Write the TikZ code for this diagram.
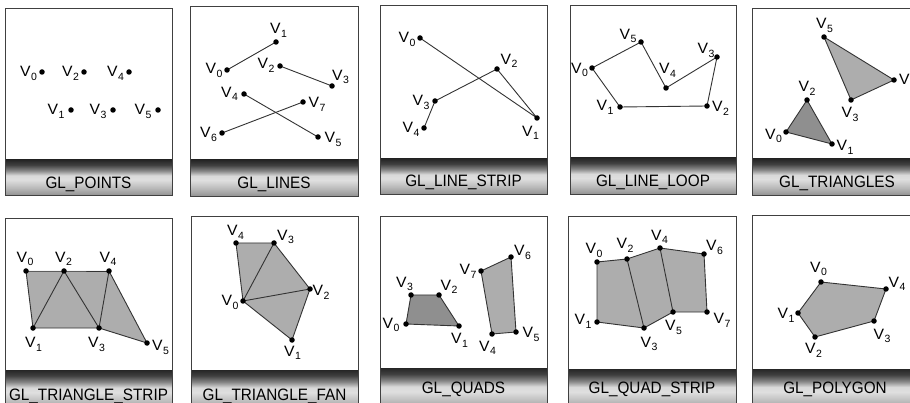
\documentclass[tikz,border=0pt]{standalone}
\usepackage{fontspec}
\setmainfont{Liberation Sans}
\pgfdeclarelayer{bg}
\pgfsetlayers{bg,main}
\pgfdeclareverticalshading{banner}{100bp}{color(0bp)=(gray!85); color(25bp)=(gray!85); color(35bp)=(gray!55); color(47bp)=(gray!25); color(53bp)=(gray!30); color(60bp)=(gray!95); color(68bp)=(black!75); color(75bp)=(black!85); color(100bp)=(black!85)}
\newcommand\vlab[1]{\scalebox{1.05}[1]{V}\kern0.4pt\raisebox{-3.5pt}{\fontsize{10.5}{10.5}\selectfont #1}}
\newcommand\bantext[1]{\scalebox{1.02}[1.1]{#1}}
\tikzset{
  frame/.style={draw=black!75, line width=0.9pt},
  edge/.style={draw=black!80, line width=0.9pt, line join=round},
  dot/.style={circle, fill=black, inner sep=0pt, minimum size=5.5pt},
  vl/.style={font=\fontsize{15}{15}\selectfont, inner sep=0pt},
  bt/.style={font=\fontsize{15}{15}\selectfont, inner sep=0pt, anchor=base},
  fillA/.style={fill=gray!64},
  fillB/.style={fill=gray!88},
}
% vertex: name, position, label offset, subscript
\newcommand\vtx[4]{\node[dot] (#1) at (#2) {};
  \node[vl] (#1t) at ([shift={(#3)}]#1) {\vlab{#4}};}
% panel: name, x1, y1, x2, y2, banner top, text baseline, text
\newcommand\panel[8]{%
  \shade[shading=banner] (#2,#6) rectangle (#4,#5);
  \draw[frame] (#2,#3) rectangle (#4,#5);
  \node[bt] (#1) at ({(#2+#4)/2},#7) {\bantext{#8}};}
\begin{document}
\begin{tikzpicture}[x=1pt,y=-1pt]
\useasboundingbox (0,0) rectangle (910,403);
\clip (0,0) rectangle (910,403);
\begin{pgfonlayer}{bg}
  \fill[white] (0,0) rectangle (910,403);
\end{pgfonlayer}

% ---------- panels ----------
\panel{t1}{5}{8}{172}{195}{160}{188.5}{GL\_POINTS}
\panel{t2}{190}{6}{358}{196}{160}{188.5}{GL\_LINES}
\panel{t3}{380}{5}{547}{194}{159}{187}{GL\_LINE\_STRIP}
\panel{t4}{570}{5}{736}{194}{158}{187}{GL\_LINE\_LOOP}
\panel{t5}{752}{8}{922}{195}{159}{188}{GL\_TRIANGLES}
\panel{t6}{5}{218}{172}{410}{370}{400}{GL\_TRIANGLE\_STRIP}
\panel{t7}{191}{216}{358}{410}{370}{400}{GL\_TRIANGLE\_FAN}
\panel{t8}{380}{216}{547}{410}{368}{393.5}{GL\_QUADS}
\panel{t9}{568}{216}{736}{410}{369}{393.5}{GL\_QUAD\_STRIP}
\panel{t10}{752}{215}{918}{410}{369}{393.5}{GL\_POLYGON}

% ---------- GL_POINTS ----------
\vtx{a0}{42,72}{-13.5,1.5}{0}
\vtx{a2}{84,72}{-13.5,1.5}{2}
\vtx{a4}{129,72}{-13.5,1.5}{4}
\vtx{a1}{71,110}{-15,1.5}{1}
\vtx{a3}{113,110}{-15,1.5}{3}
\vtx{a5}{158,110}{-15,1.5}{5}

% ---------- GL_LINES ----------
\vtx{b0}{227,70}{-13,0.5}{0}
\vtx{b1}{276,42}{2.5,-11.5}{1}
\vtx{b2}{280,66}{-14,-0.5}{2}
\vtx{b3}{332,86}{8.5,-9}{3}
\vtx{b4}{244,94}{-14.5,0}{4}
\vtx{b5}{318,137}{15,2.5}{5}
\vtx{b6}{222,133}{-13.5,1.5}{6}
\vtx{b7}{303,102}{14,2.5}{7}
\begin{pgfonlayer}{bg}
  \draw[edge] (b0.center) -- (b1.center);
  \draw[edge] (b2.center) -- (b3.center);
  \draw[edge] (b4.center) -- (b5.center);
  \draw[edge] (b6.center) -- (b7.center);
\end{pgfonlayer}

% ---------- GL_LINE_STRIP ----------
\vtx{c0}{420,38}{-13,1.5}{0}
\vtx{c1}{537,118}{-6.5,15}{1}
\vtx{c2}{497,69}{12,-8}{2}
\vtx{c3}{435,101}{-14,1.5}{3}
\vtx{c4}{424,128}{-13,1.5}{4}
\begin{pgfonlayer}{bg}
  \draw[edge] (c0.center) -- (c1.center) -- (c2.center) -- (c3.center) -- (c4.center);
\end{pgfonlayer}

% ---------- GL_LINE_LOOP ----------
\vtx{d0}{592,68}{-12.5,2}{0}
\vtx{d1}{620,107}{-15,0.5}{1}
\vtx{d2}{707,106}{13.5,2.5}{2}
\vtx{d3}{717,57}{-11,-6.5}{3}
\vtx{d4}{666,88}{1.5,-17.5}{4}
\vtx{d5}{641,42}{-13,-6}{5}
\begin{pgfonlayer}{bg}
  \draw[edge] (d0.center) -- (d1.center) -- (d2.center) -- (d3.center) -- (d4.center) -- (d5.center) -- cycle;
\end{pgfonlayer}

% ---------- GL_TRIANGLES ----------
\vtx{e0}{786,132}{-12.5,4}{0}
\vtx{e1}{832,144}{13,3.5}{1}
\vtx{e2}{807,100}{0,-11.5}{2}
\vtx{e3}{851,100}{-1,14.5}{3}
\vtx{e4}{894,80}{13.5,1}{4}
\vtx{e5}{824,37}{0.5,-11.5}{5}
\begin{pgfonlayer}{bg}
  \filldraw[edge,fillB] (e0.center) -- (e1.center) -- (e2.center) -- cycle;
  \filldraw[edge,fillA] (e3.center) -- (e4.center) -- (e5.center) -- cycle;
\end{pgfonlayer}

% ---------- GL_TRIANGLE_STRIP ----------
\vtx{f0}{26,271}{-1,-12}{0}
\vtx{f1}{33,328}{0.5,16.5}{1}
\vtx{f2}{64,271}{-0.5,-12}{2}
\vtx{f3}{99,328}{-2.5,16.5}{3}
\vtx{f4}{109,271}{-1,-12}{4}
\vtx{f5}{147,343}{13.5,4.5}{5}
\begin{pgfonlayer}{bg}
  \fill[fillA] (f0.center) -- (f2.center) -- (f4.center) -- (f5.center) -- (f3.center) -- (f1.center) -- cycle;
  \draw[edge] (f0.center) -- (f1.center) -- (f2.center) -- (f3.center) -- (f4.center) -- (f5.center);
  \draw[edge] (f0.center) -- (f2.center) -- (f4.center);
  \draw[edge] (f1.center) -- (f3.center) -- (f5.center);
\end{pgfonlayer}

% ---------- GL_TRIANGLE_FAN ----------
\vtx{g0}{243,301}{-13,1.5}{0}
\vtx{g1}{292,340}{0.5,13}{1}
\vtx{g2}{310,289}{11,3.5}{2}
\vtx{g3}{274,243}{11.5,-6}{3}
\vtx{g4}{236,243}{-0.5,-10.5}{4}
\begin{pgfonlayer}{bg}
  \filldraw[edge,fillA] (g0.center) -- (g1.center) -- (g2.center) -- (g3.center) -- (g4.center) -- cycle;
  \draw[edge] (g0.center) -- (g2.center);
  \draw[edge] (g0.center) -- (g3.center);
\end{pgfonlayer}

% ---------- GL_QUADS ----------
\vtx{h0}{406,324}{-15,1}{0}
\vtx{h1}{459,326}{0.5,14.5}{1}
\vtx{h2}{439,295}{10,-8}{2}
\vtx{h3}{411,295}{-6.5,-11}{3}
\vtx{h4}{492,334}{-4.5,14}{4}
\vtx{h5}{516,332}{15,2.5}{5}
\vtx{h6}{511,257}{11.5,-4.5}{6}
\vtx{h7}{481,271}{-13,0.5}{7}
\begin{pgfonlayer}{bg}
  \filldraw[edge,fillB] (h0.center) -- (h1.center) -- (h2.center) -- (h3.center) -- cycle;
  \filldraw[edge,fillA] (h4.center) -- (h5.center) -- (h6.center) -- (h7.center) -- cycle;
\end{pgfonlayer}

% ---------- GL_QUAD_STRIP ----------
\vtx{k0}{597,262}{-3,-11.5}{0}
\vtx{k1}{597,322}{-14,-0.5}{1}
\vtx{k2}{627,259}{-2,-13.5}{2}
\vtx{k3}{644,328}{5,16}{3}
\vtx{k4}{660,248}{-0.5,-11}{4}
\vtx{k5}{673,312}{0.5,15.5}{5}
\vtx{k6}{704,254}{10.5,-6.5}{6}
\vtx{k7}{707,312}{15,8.5}{7}
\begin{pgfonlayer}{bg}
  \filldraw[edge,fillA] (k0.center) -- (k2.center) -- (k4.center) -- (k6.center) -- (k7.center) -- (k5.center) -- (k3.center) -- (k1.center) -- cycle;
  \draw[edge] (k2.center) -- (k3.center);
  \draw[edge] (k4.center) -- (k5.center);
\end{pgfonlayer}

% ---------- GL_POLYGON ----------
\vtx{m0}{821,282}{-2.5,-13}{0}
\vtx{m1}{798,313}{-12,2.5}{1}
\vtx{m2}{815,337}{-1.5,13.5}{2}
\vtx{m3}{874,321}{8,15}{3}
\vtx{m4}{886,289}{11,-5}{4}
\begin{pgfonlayer}{bg}
  \filldraw[edge,fillA] (m0.center) -- (m1.center) -- (m2.center) -- (m3.center) -- (m4.center) -- cycle;
\end{pgfonlayer}
\end{tikzpicture}
\end{document}
